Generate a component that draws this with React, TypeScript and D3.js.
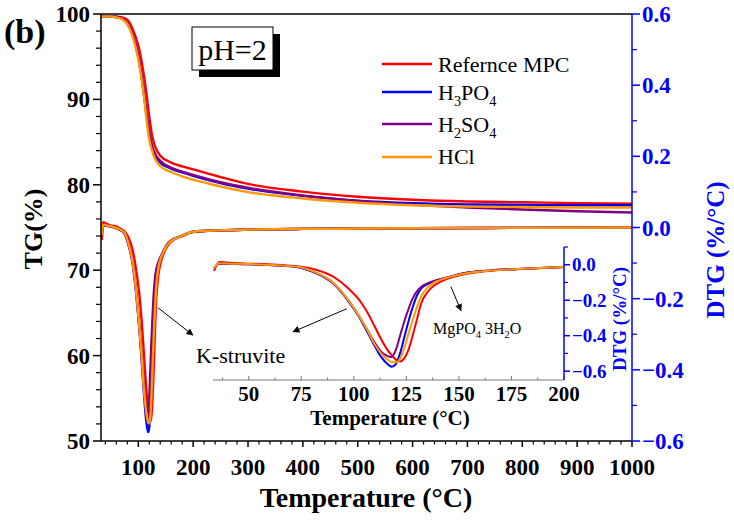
import React from "react";
import * as d3 from "d3";

const SERIES_NAMES = ["Refernce MPC", "H3PO4", "H2SO4", "HCl"];
const SERIES_COLORS = ["#ff0000", "#0000ff", "#800080", "#ff9900"];

const TEMP_TG = [32, 50, 60, 70, 80, 90, 100, 105, 110, 115, 120, 125, 130, 140, 160, 180, 200, 250, 300, 400, 500, 600, 700, 800, 900, 1000];
const TG_REF = [99.75, 99.75, 99.7, 99.6, 99.3, 98.2, 96.3, 94.8, 92.9, 90.6, 88.0, 85.8, 84.6, 83.4, 82.6, 82.15, 81.8, 80.9, 80.1, 79.2, 78.6, 78.25, 78.05, 77.95, 77.85, 77.8];
const TG_H3PO4 = [99.7, 99.7, 99.65, 99.45, 98.9, 97.5, 95.0, 93.1, 90.8, 88.2, 85.9, 84.4, 83.5, 82.6, 81.9, 81.45, 81.05, 80.2, 79.55, 78.7, 78.15, 77.85, 77.7, 77.65, 77.6, 77.6];
const TG_H2SO4 = [99.7, 99.7, 99.65, 99.45, 98.9, 97.5, 95.0, 93.1, 90.8, 88.3, 86.1, 84.6, 83.7, 82.8, 82.0, 81.55, 81.15, 80.3, 79.65, 78.75, 78.1, 77.65, 77.35, 77.1, 76.9, 76.75];
const TG_HCl = [99.7, 99.7, 99.6, 99.4, 98.8, 97.3, 94.7, 92.8, 90.5, 87.6, 85.3, 84.0, 83.1, 82.2, 81.5, 81.0, 80.6, 79.8, 79.15, 78.4, 77.9, 77.6, 77.45, 77.4, 77.35, 77.35];

const TEMP_DTG = [33.5, 36, 42, 50, 58, 66, 74, 82, 90, 98, 102, 106, 110, 113, 116, 118, 120, 122, 124, 126, 128, 130, 132, 135, 138, 142, 147, 155, 165, 178, 200, 250, 300, 400, 500, 600, 800, 1000];
const DTG_REF = [-0.035, 0.015, 0.01, 0.006, 0.004, -0.002, -0.01, -0.028, -0.066, -0.14, -0.19, -0.26, -0.35, -0.42, -0.48, -0.51, -0.535, -0.545, -0.528, -0.48, -0.40, -0.31, -0.22, -0.155, -0.118, -0.092, -0.07, -0.048, -0.034, -0.025, -0.013, -0.008, -0.006, -0.004, -0.003, -0.002, -0.001, 0.0];
const DTG_H3PO4 = [-0.02, 0.006, 0.005, 0.003, -0.001, -0.006, -0.015, -0.048, -0.105, -0.215, -0.285, -0.37, -0.46, -0.52, -0.56, -0.575, -0.56, -0.5, -0.41, -0.32, -0.24, -0.175, -0.135, -0.11, -0.095, -0.08, -0.063, -0.043, -0.032, -0.024, -0.012, -0.008, -0.006, -0.004, -0.003, -0.002, -0.001, 0.0];
const DTG_H2SO4 = [-0.02, 0.007, 0.005, 0.003, -0.001, -0.006, -0.014, -0.046, -0.10, -0.21, -0.28, -0.36, -0.44, -0.49, -0.515, -0.52, -0.48, -0.40, -0.32, -0.25, -0.19, -0.15, -0.125, -0.105, -0.092, -0.078, -0.063, -0.043, -0.032, -0.024, -0.012, -0.008, -0.006, -0.004, -0.003, -0.002, -0.001, 0.0];
const DTG_HCl = [-0.02, 0.008, 0.006, 0.004, 0.0, -0.005, -0.013, -0.045, -0.10, -0.21, -0.28, -0.36, -0.45, -0.50, -0.535, -0.548, -0.55, -0.53, -0.47, -0.39, -0.31, -0.24, -0.18, -0.13, -0.102, -0.082, -0.065, -0.045, -0.033, -0.024, -0.012, -0.008, -0.006, -0.004, -0.003, -0.002, -0.001, 0.0];

const X_TICKS = [100, 200, 300, 400, 500, 600, 700, 800, 900, 1000];
const TG_TICKS = [50, 60, 70, 80, 90, 100];
const DTG_TICKS = [-0.6, -0.4, -0.2, 0.0, 0.2, 0.4, 0.6];
const INSET_X_TICKS = [50, 75, 100, 125, 150, 175, 200];
const INSET_Y_TICKS = [0.0, -0.2, -0.4, -0.6];

const TG_SERIES = [TG_REF, TG_H3PO4, TG_H2SO4, TG_HCl];
const DTG_SERIES = [DTG_REF, DTG_H3PO4, DTG_H2SO4, DTG_HCl];

const FONT = "'Liberation Serif', 'Times New Roman', Times, serif";
const BLUE = "#0000ff";

function Sub({ name, x, y, size }: { name: string; x: number; y: number; size: number }) {
  // digits directly following a letter are drawn as subscripts
  const parts = name.match(/[A-Za-z]+|\d+|\s+/g) || [name];
  const isSub = parts.map((p, i) => /^\d+$/.test(p) && i > 0 && /^[A-Za-z]+$/.test(parts[i - 1]));
  return (
    <text x={x} y={y} fontSize={size} fontFamily={FONT}>
      {parts.map((p, i) => {
        const prevSub = i > 0 && isSub[i - 1];
        if (isSub[i]) {
          return (
            <tspan key={i} fontSize={size * 0.65} dy={size * 0.25}>{p}</tspan>
          );
        }
        return (
          <tspan key={i} dy={prevSub ? -size * 0.25 : 0}>{p}</tspan>
        );
      })}
    </text>
  );
}

export default function App() {
  const W = 734, H = 520;
  const L = 101, R = 632, T = 14, B = 441;
  const x = d3.scaleLinear().domain([32, 1000]).range([L, R]);
  const yTG = d3.scaleLinear().domain([50, 100]).range([B, T]);
  const yDTG = d3.scaleLinear().domain([-0.6, 0.6]).range([B, T]);

  const IL = 213, IR = 564, IT = 247, IB = 380;
  const xi = d3.scaleLinear().domain([33, 200]).range([IL, IR]);
  const yi = d3.scaleLinear().domain([-0.65, 0.1]).range([IB, IT]);

  const fmt1 = d3.format(".1f");

  const tgLine = (vals: number[]) =>
    d3.line<number>().x((_, i) => x(TEMP_TG[i])).y((v) => yTG(v)).curve(d3.curveMonotoneX)(vals) || "";
  const dtgLine = (vals: number[]) =>
    d3.line<number>().x((_, i) => x(TEMP_DTG[i])).y((v) => yDTG(v)).curve(d3.curveMonotoneX)(vals) || "";
  const insetLine = (vals: number[]) =>
    d3
      .line<number>()
      .defined((_, i) => TEMP_DTG[i] <= 200)
      .x((_, i) => xi(TEMP_DTG[i]))
      .y((v) => yi(v))
      .curve(d3.curveMonotoneX)(vals) || "";

  const xMinor = d3.range(40, 1001, 20).filter((v) => v % 100 !== 0);
  const tgMinor = d3.range(50, 100, 2).filter((v) => v % 10 !== 0);
  const dtgMinor = [-0.5, -0.3, -0.1, 0.1, 0.3, 0.5];
  const ixMinor = [37.5, 62.5, 87.5, 112.5, 137.5, 162.5, 187.5];
  const iyMinor = [0.1, -0.1, -0.3, -0.5];

  const legendY = [64, 92, 124, 157];
  const legendTextY = [72, 100, 132, 164];

  // annotation arrows (data coordinates)
  const arrowMain = { x1: x(136), y1: yTG(65.6), x2: x(199.5), y2: yTG(62.4) };
  const arrowIn1 = { x1: xi(96.7), y1: yi(-0.248), x2: xi(71.1), y2: yi(-0.378) };
  const arrowIn2 = { x1: xi(146.2), y1: yi(-0.124), x2: xi(151.0), y2: yi(-0.259) };

  return (
    <svg width={W} height={H} style={{ position: "absolute", left: 0, top: 0, background: "#fff" }} fontFamily={FONT}>
      <defs>
        <clipPath id="mainClip">
          <rect x={L} y={T} width={R - L} height={B - T} />
        </clipPath>
        <clipPath id="insetClip">
          <rect x={IL} y={IT - 5} width={IR - IL} height={IB - IT + 5} />
        </clipPath>
        <marker id="arrow" viewBox="0 0 10 10" refX="9" refY="5" markerWidth="9" markerHeight="7" orient="auto" markerUnits="userSpaceOnUse">
          <path d="M0,0 L10,5 L0,10 z" fill="#000" />
        </marker>
      </defs>
      <rect x={0} y={0} width={W} height={H} fill="#fff" />

      {/* main curves */}
      <g clipPath="url(#mainClip)" fill="none" strokeWidth={2.4} strokeLinejoin="round">
        {TG_SERIES.map((s, i) => (
          <path key={"tg" + i} d={tgLine(s)} stroke={SERIES_COLORS[i]} />
        ))}
        {DTG_SERIES.map((s, i) => (
          <path key={"dtg" + i} d={dtgLine(s)} stroke={SERIES_COLORS[i]} />
        ))}
      </g>

      {/* frame */}
      <line x1={L} x2={R} y1={T} y2={T} stroke="#000" strokeWidth={1.5} />
      <line x1={L} x2={L} y1={T} y2={B} stroke="#000" strokeWidth={1.5} />
      <line x1={L} x2={R} y1={B} y2={B} stroke="#000" strokeWidth={1.5} />
      <line x1={R} x2={R} y1={T} y2={B} stroke={BLUE} strokeWidth={1.5} />

      {/* left axis */}
      {TG_TICKS.map((v) => (
        <g key={"tgt" + v}>
          <line x1={L - 8} x2={L} y1={yTG(v)} y2={yTG(v)} stroke="#000" strokeWidth={1.5} />
          <text x={L - 11} y={yTG(v)} dy="0.35em" textAnchor="end" fontSize={23} fontWeight="bold">{v}</text>
        </g>
      ))}
      {tgMinor.map((v) => (
        <line key={"tgm" + v} x1={L - 5} x2={L} y1={yTG(v)} y2={yTG(v)} stroke="#000" strokeWidth={1.2} />
      ))}

      {/* bottom axis */}
      {X_TICKS.map((v) => (
        <g key={"xt" + v}>
          <line x1={x(v)} x2={x(v)} y1={B} y2={B + 6} stroke="#000" strokeWidth={1.5} />
          <text x={x(v)} y={475} textAnchor="middle" fontSize={23} fontWeight="bold">{v}</text>
        </g>
      ))}
      {xMinor.map((v) => (
        <line key={"xm" + v} x1={x(v)} x2={x(v)} y1={B} y2={B + 3.5} stroke="#000" strokeWidth={1.2} />
      ))}

      {/* right axis */}
      {DTG_TICKS.map((v) => (
        <g key={"dt" + v}>
          <line x1={R} x2={R + 8} y1={yDTG(v)} y2={yDTG(v)} stroke={BLUE} strokeWidth={1.5} />
          <text x={R + 10} y={yDTG(v)} dy="0.35em" fontSize={23} fontWeight="bold" fill={BLUE}>{fmt1(v)}</text>
        </g>
      ))}
      {dtgMinor.map((v) => (
        <line key={"dm" + v} x1={R} x2={R + 5} y1={yDTG(v)} y2={yDTG(v)} stroke={BLUE} strokeWidth={1.2} />
      ))}

      {/* axis titles */}
      <text transform={`translate(42,229) rotate(-90)`} textAnchor="middle" fontSize={26} fontWeight="bold">TG(%)</text>
      <text transform={`translate(724,250) rotate(-90)`} textAnchor="middle" fontSize={25} fontWeight="bold" fill={BLUE}>DTG (%/°C)</text>
      <text x={366} y={507} textAnchor="middle" fontSize={28} fontWeight="bold">Temperature (°C)</text>
      <text x={4} y={43} fontSize={34} fontWeight="bold">(b)</text>

      {/* pH box */}
      <rect x={199} y={34} width={81} height={43} fill="#000" />
      <rect x={192} y={27} width={81} height={43} fill="#fff" stroke="#000" strokeWidth={1} />
      <text x={232.5} y={60} textAnchor="middle" fontSize={30}>pH=2</text>

      {/* legend */}
      {SERIES_NAMES.map((n, i) => (
        <g key={"lg" + i}>
          <line x1={382} x2={432} y1={legendY[i]} y2={legendY[i]} stroke={SERIES_COLORS[i]} strokeWidth={2.5} />
          <Sub name={n} x={438} y={legendTextY[i]} size={22} />
        </g>
      ))}

      {/* inset */}
      <g clipPath="url(#insetClip)" fill="none" strokeWidth={2} strokeLinejoin="round">
        {DTG_SERIES.map((s, i) => (
          <path key={"in" + i} d={insetLine(s)} stroke={SERIES_COLORS[i]} />
        ))}
      </g>
      <line x1={IL} x2={IR} y1={IB} y2={IB} stroke="#777" strokeWidth={1} />
      {INSET_X_TICKS.map((v) => (
        <g key={"ixt" + v}>
          <line x1={xi(v)} x2={xi(v)} y1={IB} y2={IB - 4} stroke="#777" strokeWidth={1} />
          <text x={xi(v)} y={401} textAnchor="middle" fontSize={21} fontWeight="bold">{v}</text>
        </g>
      ))}
      {ixMinor.map((v) => (
        <line key={"ixm" + v} x1={xi(v)} x2={xi(v)} y1={IB} y2={IB - 2.5} stroke="#777" strokeWidth={1} />
      ))}
      <line x1={IR} x2={IR} y1={IT} y2={IB} stroke={BLUE} strokeWidth={1.5} />
      {INSET_Y_TICKS.map((v) => (
        <g key={"iyt" + v}>
          <line x1={IR} x2={IR + 6} y1={yi(v)} y2={yi(v)} stroke={BLUE} strokeWidth={1.5} />
          <text x={IR + 8} y={yi(v)} dy="0.35em" fontSize={19} fontWeight="bold" fill={BLUE}>{fmt1(v)}</text>
        </g>
      ))}
      {iyMinor.map((v) => (
        <line key={"iym" + v} x1={IR} x2={IR + 4} y1={yi(v)} y2={yi(v)} stroke={BLUE} strokeWidth={1.2} />
      ))}
      <text x={390} y={425} textAnchor="middle" fontSize={21} fontWeight="bold">Temperature (°C)</text>
      <text transform={`translate(626,319) rotate(-90)`} textAnchor="middle" fontSize={19} fontWeight="bold" fill={BLUE}>DTG (%/°C)</text>

      {/* annotations */}
      <line {...arrowMain} stroke="#000" strokeWidth={1} markerEnd="url(#arrow)" />
      <line {...arrowIn1} stroke="#000" strokeWidth={1} markerEnd="url(#arrow)" />
      <line {...arrowIn2} stroke="#000" strokeWidth={1} markerEnd="url(#arrow)" />
      <text x={196} y={363} fontSize={22}>K-struvite</text>
      <Sub name="MgPO4 3H2O" x={433} y={334} size={16} />
    </svg>
  );
}
